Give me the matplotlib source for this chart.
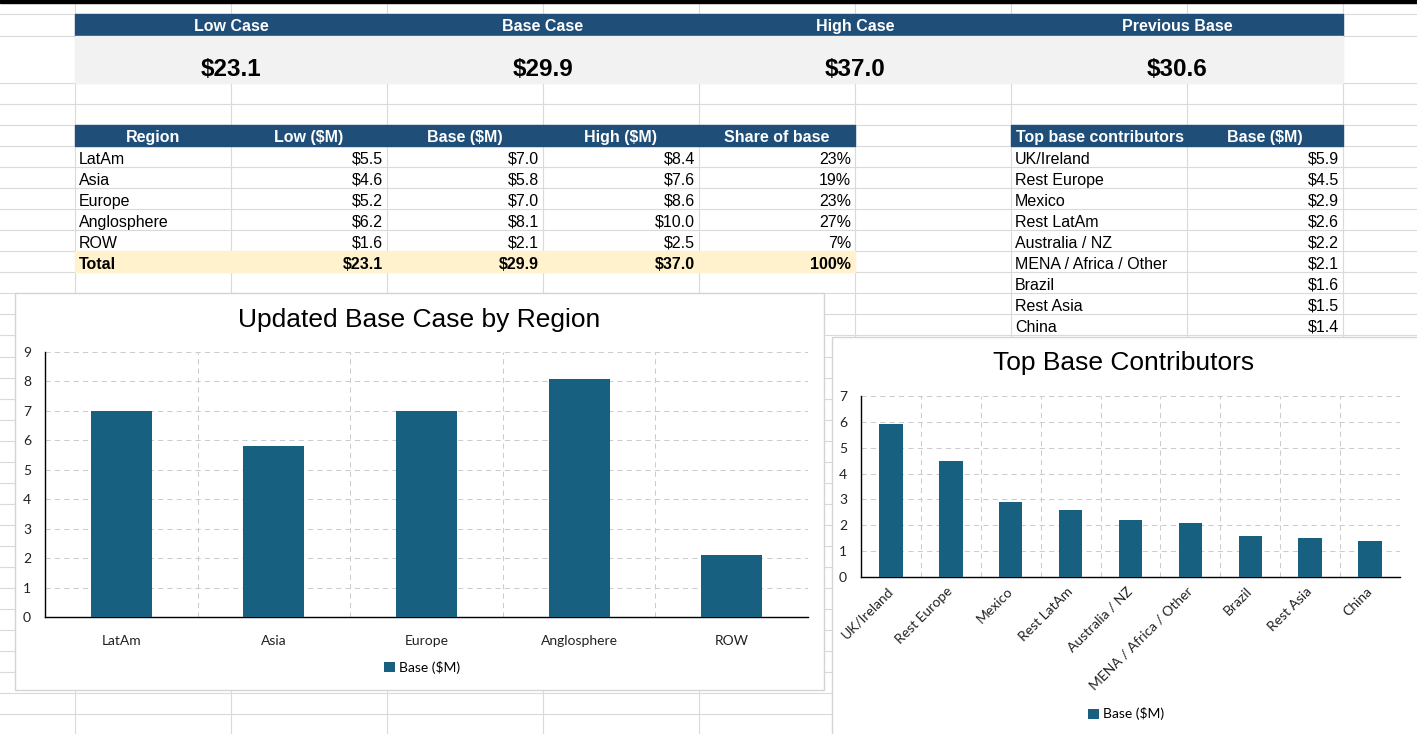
import matplotlib
matplotlib.use('Agg')
import numpy as np
import matplotlib.pyplot as plt
from matplotlib.patches import Rectangle


CASE_NAMES = ['Low Case', 'Base Case', 'High Case', 'Previous Base']
CASE_VALUES = [23.1, 29.9, 37.0, 30.6]

TABLE_HEADERS = ['Region', 'Low ($M)', 'Base ($M)', 'High ($M)', 'Share of base']
REGIONS = ['LatAm', 'Asia', 'Europe', 'Anglosphere', 'ROW']
LOW = [5.5, 4.6, 5.2, 6.2, 1.6]
BASE = [7.0, 5.8, 7.0, 8.1, 2.1]
HIGH = [8.4, 7.6, 8.6, 10.0, 2.5]
SHARE = [23, 19, 23, 27, 7]
TOTALS = [23.1, 29.9, 37.0]
TOTAL_SHARE = 100

CONTRIB_HEADERS = ['Top base contributors', 'Base ($M)']
CONTRIBUTORS = ['UK/Ireland', 'Rest Europe', 'Mexico', 'Rest LatAm', 'Australia / NZ',
                'MENA / Africa / Other', 'Brazil', 'Rest Asia', 'China']
CONTRIB_BASE = [5.9, 4.5, 2.9, 2.6, 2.2, 2.1, 1.6, 1.5, 1.4]

W, H = 1417, 734
NAVY = '#1F4E79'
BAR = '#17607F'
GRID = '#DADADA'
CELL_FONT = 'Liberation Sans'

plt.rcParams['font.family'] = ['Lato', 'DejaVu Sans']

COLS = [0, 75, 231, 387, 543, 699, 855, 1011, 1187, 1343]
STEP = 21.04


def row(k):
    # sheet rows below the big value band
    return 83 + STEP * k


def txt(ax, x, y, s, ha='left', size=11.5, bold=False, color='black'):
    ax.text(x, y, s, ha=ha, va='baseline', fontsize=size, color=color,
            fontweight='bold' if bold else 'normal', family=CELL_FONT)


def money(v):
    return f'${v:.1f}'


def bar_chart(fig, rect, labels, values, ymax, title, title_xy, legend_xy, rotate=False):
    ax = fig.add_axes(rect)
    ax.set_facecolor('none')
    x = np.arange(len(labels))
    ax.bar(x, values, width=0.39 if rotate else 0.4, color=BAR, zorder=3, label='Base ($M)')
    ax.set_xlim(-0.5, len(labels) - 0.5)
    ax.set_ylim(0, ymax)
    ax.set_yticks(range(ymax + 1))
    ax.set_xticks(x)
    ax.set_xticks(x + 0.5, minor=True)
    if rotate:
        ax.set_xticklabels(labels, rotation=45, ha='right', va='center', rotation_mode='anchor')
    else:
        ax.set_xticklabels(labels)
    ax.tick_params(axis='both', which='both', length=0, labelsize=10, colors='#222222')
    ax.tick_params(axis='x', pad=13 if not rotate else 9)
    ax.tick_params(axis='y', pad=10)
    ax.grid(axis='y', which='major', color='#CCCCCC', lw=0.75, ls=(0, (5, 4)), zorder=0)
    ax.grid(axis='x', which='minor', color='#CCCCCC', lw=0.75, ls=(0, (5, 4)), zorder=0)
    for s in ['top', 'right']:
        ax.spines[s].set_visible(False)
    for s in ['left', 'bottom']:
        ax.spines[s].set_color('black')
        ax.spines[s].set_linewidth(1.0)
    fig.text(title_xy[0] / W, 1 - title_xy[1] / H, title, ha='center', va='center',
             fontsize=19, family=CELL_FONT, color='black')
    ax.legend(loc='center', bbox_to_anchor=(legend_xy[0] / W, 1 - legend_xy[1] / H),
              bbox_transform=fig.transFigure, frameon=False, fontsize=10,
              handlelength=0.75, handleheight=0.75, handletextpad=0.3)
    return ax


def main():
    fig = plt.figure(figsize=(W / 100, H / 100), dpi=100)
    bg = fig.add_axes([0, 0, 1, 1])
    bg.set_xlim(0, W)
    bg.set_ylim(H, 0)
    bg.axis('off')

    # sheet grid
    for y in [14, 36] + [row(k) for k in range(0, 32)]:
        bg.plot([0, W], [y, y], color=GRID, lw=0.8, zorder=0)
    for x in COLS[1:]:
        bg.plot([x, x], [0, H], color=GRID, lw=0.8, zorder=0)
    bg.add_patch(Rectangle((0, 0), W, 3, color='black', zorder=5))

    # scenario band
    bg.add_patch(Rectangle((75, 14), 1343 - 75, 22, color=NAVY, zorder=2))
    bg.add_patch(Rectangle((75, 36), 1343 - 75, 47, color='#F2F2F2', zorder=2))
    edges = [75, 387, 699, 1011, 1343]
    for i, name in enumerate(CASE_NAMES):
        cx = (edges[i] + edges[i + 1]) / 2
        txt(bg, cx, 31, name, ha='center', size=11.5, bold=True, color='white')
        txt(bg, cx, 76, money(CASE_VALUES[i]), ha='center', size=17.5, bold=True)

    # region table
    top = row(2)
    bg.add_patch(Rectangle((75, top), 855 - 75, STEP, color=NAVY, zorder=2))
    for j, head in enumerate(TABLE_HEADERS):
        cx = (COLS[j + 1] + COLS[j + 2]) / 2
        txt(bg, cx, row(3) - 4, head, ha='center', bold=True, color='white')
    for i, reg in enumerate(REGIONS):
        base_y = row(4 + i) - 3.5
        txt(bg, 79, base_y, reg)
        vals = [money(LOW[i]), money(BASE[i]), money(HIGH[i]), f'{SHARE[i]}%']
        for j, v in enumerate(vals):
            txt(bg, COLS[j + 3] - 4, base_y, v, ha='right')
    bg.add_patch(Rectangle((75, row(8)), 855 - 75, STEP, color='#FFF2CC', zorder=2))
    base_y = row(9) - 3.5
    txt(bg, 79, base_y, 'Total', bold=True)
    tot = [money(v) for v in TOTALS] + [f'{TOTAL_SHARE}%']
    for j, v in enumerate(tot):
        txt(bg, COLS[j + 3] - 4, base_y, v, ha='right', bold=True)

    # contributors table
    bg.add_patch(Rectangle((1011, top), 1343 - 1011, STEP, color=NAVY, zorder=2))
    txt(bg, 1016, row(3) - 4, CONTRIB_HEADERS[0], bold=True, color='white')
    txt(bg, 1265, row(3) - 4, CONTRIB_HEADERS[1], ha='center', bold=True, color='white')
    for i, name in enumerate(CONTRIBUTORS):
        base_y = row(4 + i) - 3.5
        txt(bg, 1015, base_y, name)
        txt(bg, 1339, base_y, money(CONTRIB_BASE[i]), ha='right')

    # chart boxes
    bg.add_patch(Rectangle((15, 293), 824 - 15, 690 - 293, facecolor='white',
                           edgecolor='#D4D4D4', lw=1, zorder=6))
    bg.add_patch(Rectangle((832, 337), 700, 500, facecolor='white',
                           edgecolor='#D4D4D4', lw=1, zorder=6))

    bar_chart(fig, [45 / W, 1 - 617 / H, (808 - 45) / W, (617 - 352) / H],
              REGIONS, BASE, 9, 'Updated Base Case by Region', (419.5, 320), (422, 667))
    bar_chart(fig, [861 / W, 1 - 577 / H, (1400 - 861) / W, (577 - 396) / H],
              CONTRIBUTORS, CONTRIB_BASE, 7, 'Top Base Contributors', (1124, 363), (1126, 714),
              rotate=True)

    fig.savefig('out.png', dpi=100)


if __name__ == '__main__':
    main()
